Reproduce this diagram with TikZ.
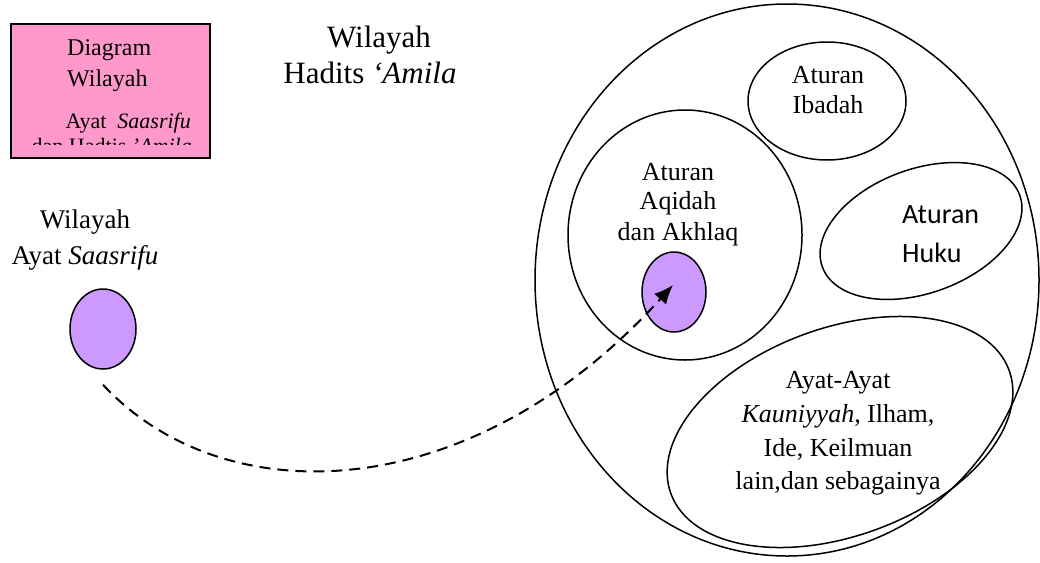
\documentclass[tikz,border=0pt]{standalone}
\usepackage{fontspec}
\setmainfont{Liberation Serif}
\newfontfamily\calib{Carlito}
\usetikzlibrary{shapes.geometric,arrows.meta}
\definecolor{pinkbox}{HTML}{FF99CC}
\definecolor{lilac}{HTML}{CC99FF}
\begin{document}
\begin{tikzpicture}[x=1pt,y=-1pt,
  oval/.style={draw, ellipse, line width=1.5pt, inner sep=0pt},
  lbl/.style={inner sep=0pt, anchor=base, font=\fontsize{26}{33}\selectfont},
  boxtxt/.style={inner sep=0pt, font=\fontsize{24}{28}\selectfont},
]
\useasboundingbox (0,0) rectangle (1040,562);
% pink box
\node[draw, line width=2pt, fill=pinkbox, minimum width=199pt, minimum height=134pt, anchor=north west, inner sep=0pt] (box) at (10,23) {};
\begin{scope}
\clip (11,24) rectangle (208,144);
\node[boxtxt, anchor=base west] (b1) at (67,55) {Diagram};
\node[boxtxt, anchor=base west] (b2) at (67,86) {Wilayah};
\node[boxtxt, anchor=base east, font=\fontsize{22}{26}\selectfont] (b3) at (191,128) {Ayat\ \ \textit{Saasrifu}};
\node[boxtxt, anchor=base east, font=\fontsize{22}{26}\selectfont] (b4) at (192,153) {dan Hadtis \textit{'Amila}};
\end{scope}
% top label
\node[lbl, font=\fontsize{31}{36}\selectfont] (h1) at (379,47) {Wilayah};
\node[lbl, font=\fontsize{31}{36}\selectfont] (h2) at (370,83) {Hadits \textit{`Amila}};
% left label
\node[lbl, font=\fontsize{27}{36}\selectfont] (w1) at (85,228) {Wilayah};
\node[lbl, font=\fontsize{27}{36}\selectfont] (w2) at (85,264) {Ayat \textit{Saasrifu}};
\node[oval, fill=lilac, minimum width=66pt, minimum height=80pt] (src) at (103,329) {};
% big ellipse
\node[oval, minimum width=504pt, minimum height=552pt] (big) at (787,280) {};
% aqidah
\node[oval, minimum width=234pt, minimum height=250pt] (aq) at (685,235) {};
\node[lbl] (aq1) at (678,180) {Aturan};
\node[lbl] (aq2) at (678,209) {Aqidah};
\node[lbl] (aq3) at (678,240) {dan Akhlaq};
\node[oval, fill=lilac, minimum width=64pt, minimum height=80pt] (dst) at (674,292) {};
% ibadah
\node[oval, minimum width=158pt, minimum height=118pt] (ib) at (827,101) {};
\node[lbl] (ib1) at (828,83) {Aturan};
\node[lbl] (ib2) at (828,113) {Ibadah};
% hukum
\node[oval, minimum width=210pt, minimum height=124pt, rotate=20] (hk) at (921,231) {};
\node[lbl, anchor=base west, font=\fontsize{28}{36}\calib] (hk1) at (902,223) {Aturan};
\node[lbl, anchor=base west, font=\fontsize{28}{36}\calib] (hk2) at (902,262) {Huku};
% ayat-ayat
\node[oval, minimum width=360pt, minimum height=208pt, rotate=20] (ay) at (840,432) {};
\node[lbl] (ay1) at (838,388) {Ayat-Ayat};
\node[lbl] (ay2) at (838,422) {\textit{Kauniyyah}, Ilham,};
\node[lbl] (ay3) at (838,456) {Ide, Keilmuan};
\node[lbl] (ay4) at (838,489) {lain,dan sebagainya};
% connector
\coordinate (tip) at ([xshift=-1pt,yshift=7pt]dst.center);
\draw[line width=2pt, dash pattern=on 11pt off 7pt, -{Latex[length=19pt,width=16pt]}]
  ([yshift=-15pt]src.south) .. controls +(122,131) and +(-201,222) .. (tip);
\end{tikzpicture}
\end{document}
